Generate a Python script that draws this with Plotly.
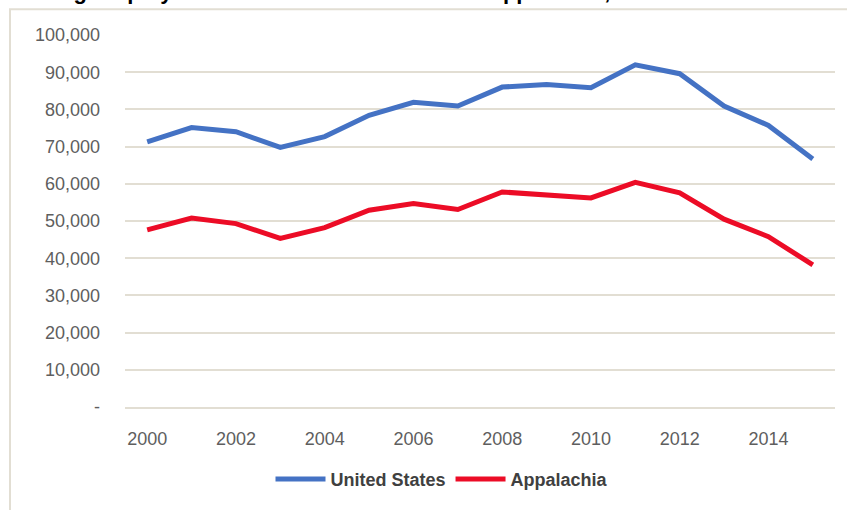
import plotly.graph_objects as go

years = list(range(2000, 2016))
united_states = [71300, 75100, 74000, 69800, 72700, 78400, 81900, 80900,
                 86000, 86700, 85800, 92000, 89600, 80900, 75700, 66700]
appalachia = [47600, 50800, 49300, 45300, 48200, 52900, 54700, 53100,
              57800, 56900, 56200, 60400, 57600, 50500, 45800, 38200]

y_ticks = [0, 10000, 20000, 30000, 40000, 50000, 60000, 70000, 80000, 90000, 100000]
y_tick_labels = ["-", "10,000", "20,000", "30,000", "40,000", "50,000",
                 "60,000", "70,000", "80,000", "90,000", "100,000"]
x_ticks = [2000, 2002, 2004, 2006, 2008, 2010, 2012, 2014]
title_text = "Mining Employment in the United States and Appalachia, 2000-2015"

GRID = "#E2DED3"
TICK = "#5E5E5E"
FONT = "Liberation Sans"

W, H = 847, 510
L, R, T, B = 125, 12, 35, 100
pw, ph = W - L - R, H - T - B

def px_x(p):
    return (p - L) / pw

def px_y(p):
    return (H - B - p) / ph

fig = go.Figure()
fig.add_trace(go.Scatter(x=years, y=united_states, mode="lines", name="<b>United States</b>",
                         line=dict(color="#4472C4", width=5)))
fig.add_trace(go.Scatter(x=years, y=appalachia, mode="lines", name="<b>Appalachia</b>",
                         line=dict(color="#EC0C26", width=5)))

fig.update_layout(
    width=W, height=H,
    margin=dict(l=L, r=R, t=T, b=B),
    paper_bgcolor="white", plot_bgcolor="white",
    font=dict(family=FONT, size=18, color=TICK),
    showlegend=True,
    legend=dict(orientation="h", x=px_x(442), xanchor="center", y=px_y(483), yanchor="middle",
                font=dict(family=FONT, size=18, color="#404040"),
                itemwidth=50, tracegroupgap=0, bgcolor="rgba(0,0,0,0)"),
    xaxis=dict(range=[1999.5, 2015.5], tickvals=x_ticks, ticktext=[str(v) for v in x_ticks],
               showgrid=False, zeroline=False, showline=True, linecolor=GRID, linewidth=2,
               ticks="", ticklabelstandoff=14, tickfont=dict(size=18, color=TICK)),
    yaxis=dict(range=[0, 100000], tickvals=y_ticks, ticktext=y_tick_labels,
               showgrid=True, gridcolor=GRID, gridwidth=2, zeroline=False, showline=False,
               ticks="", ticklabelstandoff=24, tickfont=dict(size=18, color=TICK)),
    shapes=[dict(type="rect", xref="paper", yref="paper",
                 x0=px_x(10), x1=px_x(900), y0=px_y(560), y1=px_y(9),
                 line=dict(color=GRID, width=2), fillcolor="rgba(0,0,0,0)", layer="below")],
    annotations=[dict(text="<b>" + title_text + "</b>", xref="paper", yref="paper",
                      x=px_x(14), xanchor="left", y=px_y(6), yanchor="bottom",
                      showarrow=False, font=dict(family=FONT, size=22, color="black"))],
)

fig.write_html("out.html", config={"displayModeBar": False},
               post_script="document.body.style.margin='0';document.body.style.overflow='hidden';")
